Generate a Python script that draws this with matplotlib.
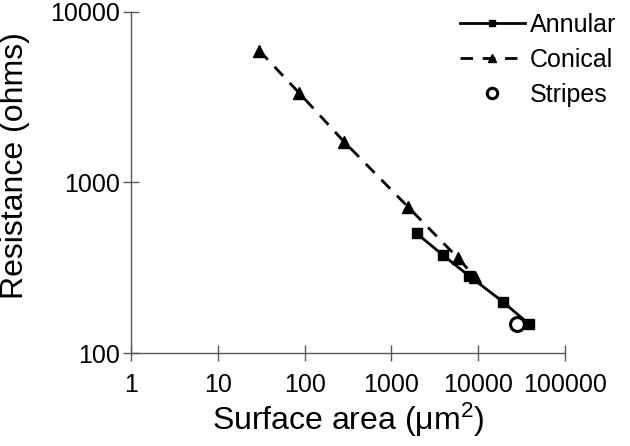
import numpy as np
import matplotlib
matplotlib.use('Agg')
import matplotlib.pyplot as plt
from matplotlib.ticker import FixedLocator, FixedFormatter, NullLocator

# values (log-log)
annular_area = [1950, 3900, 7900, 19100, 38800]
annular_res = [502, 375, 282, 200, 147]

conical_area = [30, 87, 284, 1570, 5900, 9200]
conical_res = [5910, 3325, 1730, 713, 358, 277]

stripes_area = [27700]
stripes_res = [148]

x_ticks = [1, 10, 100, 1000, 10000, 100000]
y_ticks = [100, 1000, 10000]

plt.rcParams['font.family'] = ['Liberation Sans', 'DejaVu Sans']
plt.rcParams['mathtext.fontset'] = 'custom'
plt.rcParams['mathtext.rm'] = 'Liberation Sans'
plt.rcParams['mathtext.it'] = 'Liberation Sans'

fig = plt.figure(figsize=(6.3, 4.46), dpi=100)
ax = fig.add_axes([0.208, 0.2085, 0.689, 0.7655])

ax.plot(annular_area, annular_res, color='black', linestyle='-', linewidth=2.0,
        marker='s', markersize=6.5, label='Annular')
ax.plot(conical_area, conical_res, color='black', linestyle=(0, (4.5, 3.5)), linewidth=2.0,
        marker='^', markersize=8, label='Conical')
ax.plot(stripes_area, stripes_res, linestyle='none', marker='o', markersize=10,
        markerfacecolor='white', markeredgecolor='black', markeredgewidth=2.2,
        label='Stripes')

ax.set_xscale('log')
ax.set_yscale('log')
ax.set_xlim(1, 100000)
ax.set_ylim(100, 10000)

ax.xaxis.set_major_locator(FixedLocator(x_ticks))
ax.xaxis.set_major_formatter(FixedFormatter([str(v) for v in x_ticks]))
ax.xaxis.set_minor_locator(NullLocator())
ax.yaxis.set_major_locator(FixedLocator(y_ticks))
ax.yaxis.set_major_formatter(FixedFormatter([str(v) for v in y_ticks]))
ax.yaxis.set_minor_locator(NullLocator())

for side in ['top', 'right']:
    ax.spines[side].set_visible(False)
for side in ['left', 'bottom']:
    ax.spines[side].set_color('#595959')
    ax.spines[side].set_linewidth(1.0)

ax.tick_params(axis='both', direction='inout', length=11.5, width=1.0,
               color='#595959', labelsize=18, labelcolor='black')
ax.tick_params(axis='x', pad=9)
ax.tick_params(axis='y', pad=2)

ax.set_xlabel('Surface area (\u03bcm$^\\mathrm{2}$)', fontsize=23)
ax.set_ylabel('Resistance (ohms)', fontsize=23)
ax.yaxis.set_label_coords(-0.233, 0.55)
ax.xaxis.set_label_coords(0.5, -0.141)

leg = ax.legend(loc='upper right', bbox_to_anchor=(0.998, 1.0),
                bbox_transform=fig.transFigure, frameon=False, fontsize=18,
                handlelength=2.6, handletextpad=0.2, labelspacing=0.45,
                markerscale=0.75, borderaxespad=0.1)

fig.savefig('out.png', dpi=100)
